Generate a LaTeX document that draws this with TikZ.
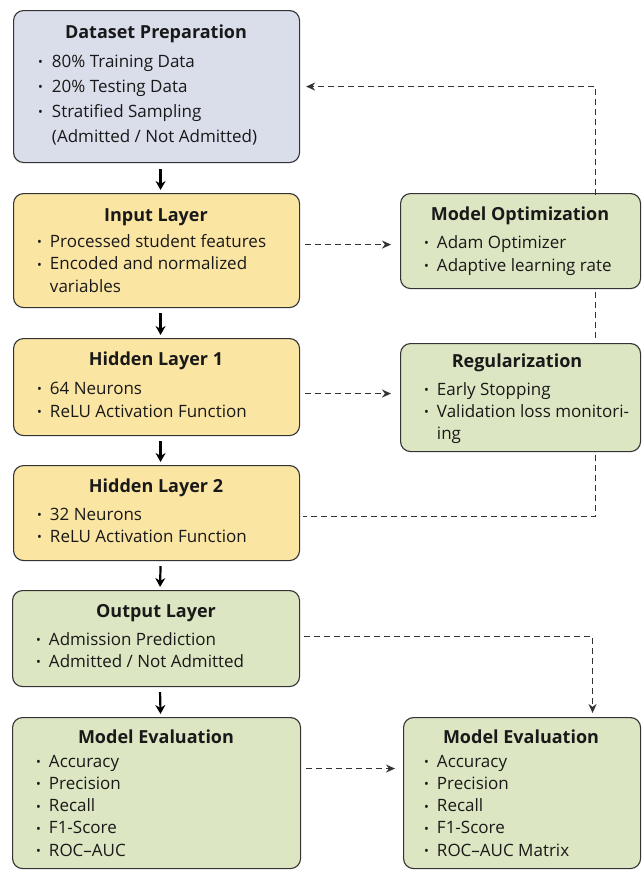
\documentclass[tikz,border=0pt]{standalone}
\usepackage{fontspec}
\setmainfont{Open Sans}
\usetikzlibrary{arrows.meta,calc}
\definecolor{bluebox}{HTML}{D9DEEA}
\definecolor{yelbox}{HTML}{FBE5A3}
\definecolor{grnbox}{HTML}{DCE6C2}
\definecolor{edge}{HTML}{333333}
\definecolor{dashc}{HTML}{333333}
\newcommand{\bdot}{\raisebox{0.5pt}{\scalebox{0.75}{•}}}
\begin{document}
\begin{tikzpicture}[x=1pt,y=-1pt,
  box/.style={draw=edge, line width=1.1pt, rounded corners=10pt, anchor=north west, inner sep=0pt},
  ttl/.style={anchor=base, font=\fontsize{18}{20}\selectfont\bfseries, inner sep=0pt, text=black!90},
  lst/.style={anchor=base west, inner sep=0pt, text=black!90},
  arr/.style={line width=2.2pt, -{Stealth[length=9pt,width=10pt]}},
  darr/.style={draw=dashc, line width=1.5pt, dash pattern=on 6pt off 4pt, -{Stealth[length=9pt,width=8pt]}},
  dln/.style={draw=dashc, line width=1.5pt, dash pattern=on 6pt off 4pt}]
\useasboundingbox (0,0) rectangle (642,870);
\fill[white] (0,0) rectangle (642,870);
% boxes
\node[box, fill=bluebox, minimum width=286pt, minimum height=152pt] (ds) at (13,10) {};
\node[box, fill=yelbox, minimum width=286pt, minimum height=114pt] (in) at (13,193) {};
\node[box, fill=yelbox, minimum width=286pt, minimum height=97pt] (h1) at (13,338) {};
\node[box, fill=yelbox, minimum width=286pt, minimum height=95pt] (h2) at (13,465) {};
\node[box, fill=grnbox, minimum width=287pt, minimum height=96pt] (out) at (12,590) {};
\node[box, fill=grnbox, minimum width=288pt, minimum height=151pt] (meL) at (12,717) {};
\node[box, fill=grnbox, minimum width=240pt, minimum height=95pt] (mo) at (400,193) {};
\node[box, fill=grnbox, minimum width=240pt, minimum height=108pt] (reg) at (400,343) {};
\node[box, fill=grnbox, minimum width=237pt, minimum height=151pt] (meR) at (403,717) {};
% titles
\node[ttl] (dsT) at (156,38) {Dataset Preparation};
\node[ttl] (inT) at (156,221) {Input Layer};
\node[ttl] (h1T) at (156,365) {Hidden Layer 1};
\node[ttl] (h2T) at (156,492) {Hidden Layer 2};
\node[ttl] (outT) at (156,617) {Output Layer};
\node[ttl] (meLT) at (156,743) {Model Evaluation};
\node[ttl] (moT) at (520,220) {Model Optimization};
\node[ttl] (regT) at (517,367) {Regularization};
\node[ttl] (meRT) at (521,743) {Model Evaluation};
% lists
\node[lst, font=\fontsize{17}{25}\selectfont] (dsL) at (38,67) {\begin{tabular}[t]{@{}l@{\hspace{9pt}}l@{}}
\bdot & 80\% Training Data\\ \bdot & 20\% Testing Data\\ \bdot & Stratified Sampling\\ & (Admitted / Not Admitted)\end{tabular}};
\node[lst, font=\fontsize{17}{22.5}\selectfont] (inL) at (37,247) {\begin{tabular}[t]{@{}l@{\hspace{8pt}}l@{}}
\bdot & Processed student features\\ \bdot & Encoded and normalized\\ & variables\end{tabular}};
\node[lst, font=\fontsize{17}{23}\selectfont] (h1L) at (37,394) {\begin{tabular}[t]{@{}l@{\hspace{8pt}}l@{}}
\bdot & 64 Neurons\\ \bdot & ReLU Activation Function\end{tabular}};
\node[lst, font=\fontsize{17}{22}\selectfont] (h2L) at (37,520) {\begin{tabular}[t]{@{}l@{\hspace{8pt}}l@{}}
\bdot & 32 Neurons\\ \bdot & ReLU Activation Function\end{tabular}};
\node[lst, font=\fontsize{17}{22}\selectfont] (outL) at (36,645) {\begin{tabular}[t]{@{}l@{\hspace{8pt}}l@{}}
\bdot & Admission Prediction\\ \bdot & Admitted / Not Admitted\end{tabular}};
\node[lst, font=\fontsize{17}{22.3}\selectfont] (meLL) at (36,767) {\begin{tabular}[t]{@{}l@{\hspace{8pt}}l@{}}
\bdot & Accuracy\\ \bdot & Precision\\ \bdot & Recall\\ \bdot & F1-Score\\ \bdot & ROC{\textendash}AUC\end{tabular}};
\node[lst, font=\fontsize{17}{23}\selectfont] (moL) at (424,248) {\begin{tabular}[t]{@{}l@{\hspace{8pt}}l@{}}
\bdot & Adam Optimizer\\ \bdot & Adaptive learning rate\end{tabular}};
\node[lst, font=\fontsize{17}{22}\selectfont] (regL) at (424,395) {\begin{tabular}[t]{@{}l@{\hspace{8pt}}l@{}}
\bdot & Early Stopping\\ \bdot & Validation loss monitori-\\ & ing\end{tabular}};
\node[lst, font=\fontsize{17}{22.3}\selectfont] (meRL) at (424,767) {\begin{tabular}[t]{@{}l@{\hspace{8pt}}l@{}}
\bdot & Accuracy\\ \bdot & Precision\\ \bdot & Recall\\ \bdot & F1-Score\\ \bdot & ROC{\textendash}AUC Matrix\end{tabular}};
% solid arrows
\draw[arr] ([xshift=4pt,yshift=-6pt]ds.south) -- ([xshift=4pt,yshift=3pt]in.north);
\draw[arr] ([xshift=4pt,yshift=-5pt]in.south) -- ([xshift=4pt,yshift=3pt]h1.north);
\draw[arr] ([xshift=4pt,yshift=-5pt]h1.south) -- ([xshift=4pt,yshift=3pt]h2.north);
\draw[arr] ([xshift=4pt,yshift=-5pt]h2.south) -- ([xshift=4pt,yshift=3pt]out.north);
\draw[arr] ([xshift=4pt,yshift=-5pt]out.south) -- ([xshift=4pt,yshift=3pt]meL.north);
% dashed connectors
\draw[darr] ([xshift=5pt,yshift=6pt]in.east) -- ([xshift=-9pt,yshift=-3.5pt]mo.west);
\draw[darr] ([xshift=5pt,yshift=-6.5pt]h1.east) -- ([xshift=-9pt,yshift=4pt]reg.west);
\draw[darr] ([xshift=75pt,yshift=-2pt]mo.north) |- ([xshift=6pt]ds.east);
\draw[dln] ([xshift=75pt,yshift=-3pt]mo.south) -- ([xshift=75pt,yshift=2pt]reg.north);
\draw[dln] ([xshift=75pt,yshift=-3pt]reg.south) |- ([xshift=3pt,yshift=-3.5pt]h2.east);
\draw[darr] ([xshift=4pt,yshift=2pt]out.east) -| ([xshift=70.5pt,yshift=4pt]meR.north);
\draw[darr] ([xshift=5pt,yshift=24.5pt]meL.east) -- ([xshift=-8pt,yshift=24.5pt]meR.west);
\end{tikzpicture}
\end{document}
